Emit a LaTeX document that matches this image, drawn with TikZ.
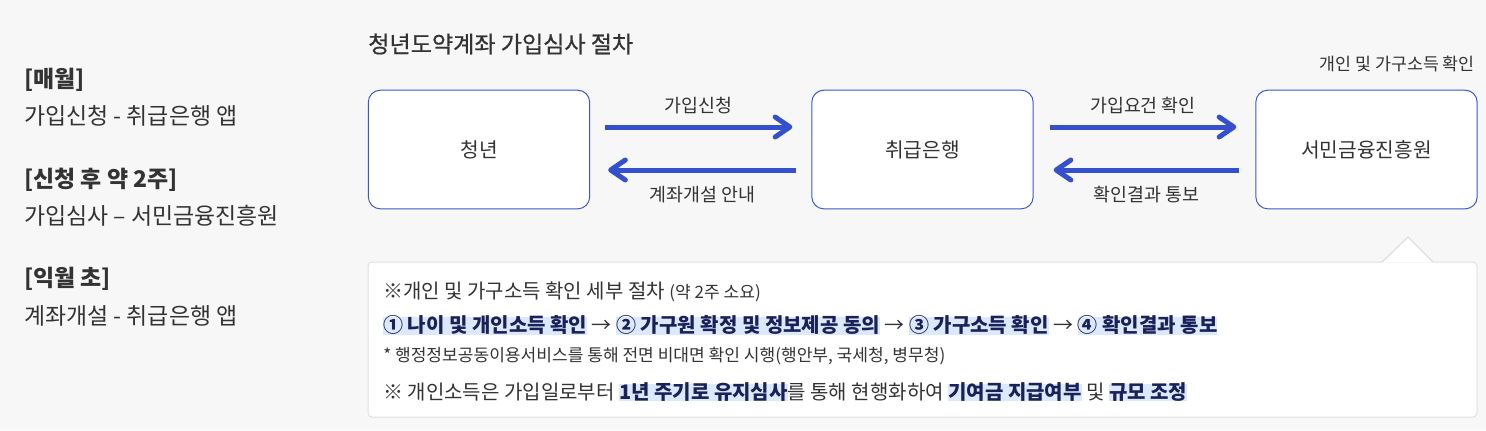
\documentclass[tikz,border=0pt]{standalone}
\usepackage{fontspec}
\setmainfont{Noto Sans CJK KR}
\newfontfamily\medfont{Noto Sans CJK KR}[FakeBold=0.6]
\usetikzlibrary{arrows.meta,calc}
\definecolor{bg}{HTML}{F7F7F7}
\definecolor{txt}{HTML}{333333}
\definecolor{blu}{HTML}{3550CD}
\definecolor{boxline}{HTML}{3E56C9}
\definecolor{navy}{HTML}{1A2058}
\definecolor{hlc}{HTML}{DCE9FC}
\definecolor{panelline}{HTML}{E0E0E0}
\newlength\hlw
\newcommand\hl[1]{\settowidth\hlw{#1}\makebox[0pt][l]{\textcolor{hlc}{\rule[-0.1em]{\hlw}{0.86em}}}#1}
\newcommand\fs[1]{\fontsize{#1}{#1}\selectfont}
\newcommand\thinarrow{{\mdseries\color{txt}→}}
\tikzset{
  lefttxt/.style={anchor=west, inner sep=0pt, text=txt, font=\fs{17.2pt}},
  leftbold/.style={lefttxt, font=\bfseries\fs{17.2pt}},
  stage/.style={draw=boxline, fill=white, line width=0.75pt, rounded corners=9pt,
    minimum width=166pt, minimum height=89pt, text=txt, font=\fs{15.2pt}},
  flow/.style={line width=3.75pt, draw=blu, -{Straight Barb[length=11pt,width=15pt,round]}},
  flowlbl/.style={inner sep=0pt, text=txt, font=\fs{13.8pt}},
  paneltxt/.style={anchor=west, inner sep=0pt, text=txt, font=\fs{15pt}}
}
\begin{document}
\begin{tikzpicture}[x=0.75pt,y=-0.75pt]
\fill[bg] (0,0) rectangle (1486,430);
\useasboundingbox (0,0) rectangle (1486,430);

% left column
\node[leftbold] (l1) at (24,80) {[매월]};
\node[lefttxt] (l2) at (24,115.5) {가입신청 - 취급은행 앱};
\node[leftbold] (l3) at (24,180) {[신청 후 약 2주]};
\node[lefttxt] (l4) at (24,215.5) {가입심사 – 서민금융진흥원};
\node[leftbold] (l5) at (24,279) {[익월 초]};
\node[lefttxt] (l6) at (24,316) {계좌개설 - 취급은행 앱};

% title
\node[anchor=west, inner sep=0pt, text=txt, font=\medfont\fs{17.3pt}] (title) at (368,44) {청년도약계좌 가입심사 절차};

% boxes
\node[stage] (b1) at (479,149.5) {청년};
\node[stage] (b2) at (922.5,149.5) {취급은행};
\node[stage] (b3) at (1366.5,149.5) {서민금융진흥원};

\node[anchor=east, inner sep=0pt, text=txt, font=\fs{13pt}] (note) at (1475,64) {개인 및 가구소득 확인};

% arrows
\draw[flow] ($(b1.east)+(15,-22.5)$) -- ($(b2.west)+(-19,-22.5)$)
  node[flowlbl, midway, yshift=16pt] (a1) {가입신청};
\draw[flow] ($(b2.west)+(-15,20.5)$) -- ($(b1.east)+(18,20.5)$)
  node[flowlbl, midway, yshift=-18.75pt] (a2) {계좌개설 안내};
\draw[flow] ($(b2.east)+(16,-22.5)$) -- ($(b3.west)+(-19,-22.5)$)
  node[flowlbl, midway, yshift=16pt] (a3) {가입요건 확인};
\draw[flow] ($(b3.west)+(-16,20.5)$) -- ($(b2.east)+(20,20.5)$)
  node[flowlbl, midway, yshift=-18.75pt] (a4) {확인결과 통보};

% detail panel
\node[draw=panelline, fill=white, line width=0.75pt, rounded corners=3pt,
  minimum width=831.75pt, minimum height=116.25pt, inner sep=0pt] (panel) at (922.5,339.5) {};
\fill[white] (1382,262.6) -- (1408,237) -- (1433,262.6) -- cycle;
\draw[panelline, line width=1pt] (1382,262) -- (1408,237) -- (1433,262);

\node[paneltxt] (p1) at (383,291.5) {※개인 및 가구소득 확인 세부 절차 {\fs{12.8pt}(약 2주 소요)}};
\node[paneltxt, font=\bfseries\fs{15pt}, text=navy] (p2) at (383,325)
  {\hl{① 나이 및 개인소득 확인} \thinarrow{} \hl{② 가구원 확정 및 정보제공 동의} \thinarrow{} \hl{③ 가구소득 확인} \thinarrow{} \hl{④ 확인결과 통보}};
\node[paneltxt, font=\fs{12.8pt}] (p3) at (383,356)
  {* 행정정보공동이용서비스를 통해 전면 비대면 확인 시행(행안부, 국세청, 병무청)};
\node[paneltxt] (p4) at (383,392)
  {※ 개인소득은 가입일로부터 {\bfseries\color{navy}\hl{1년 주기로 유지심사}}를 통해 현행화하여 {\bfseries\color{navy}\hl{기여금 지급여부}} 및 {\bfseries\color{navy}\hl{규모 조정}}};
\end{tikzpicture}
\end{document}
